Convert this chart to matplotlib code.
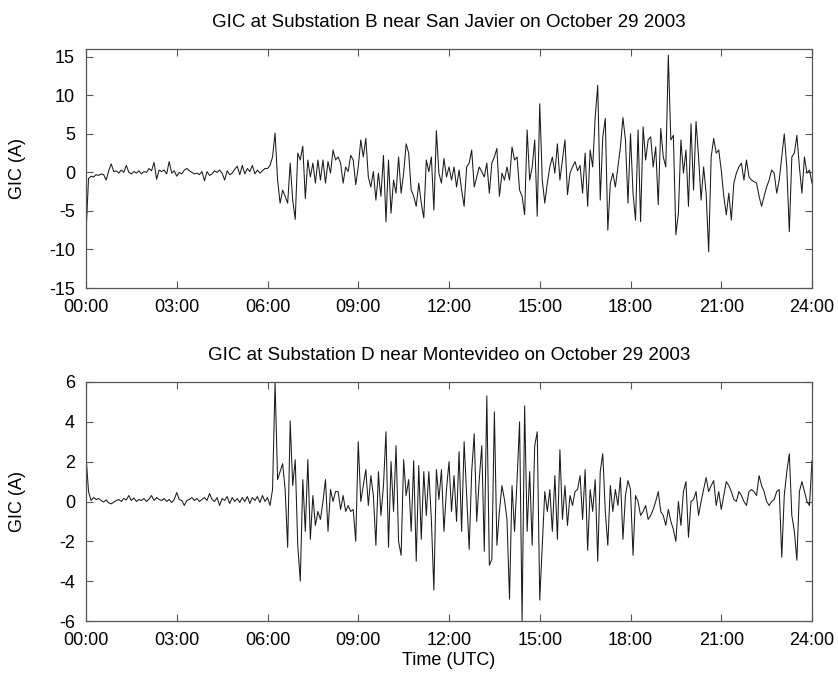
import numpy as np
import matplotlib
matplotlib.use("Agg")
import matplotlib.pyplot as plt

plt.rcParams['font.family'] = ['Liberation Sans', 'DejaVu Sans']
plt.rcParams['axes.unicode_minus'] = False

# sample times in minutes (5-minute readings)
minutes = np.arange(0, 1441, 5)

# GIC at Substation B (San Javier), A
gic_b = [
    -8, -0.8, -0.5, -0.6, -0.3, -0.4, -0.2, -0.3, -1.0, 0.2, 1.1, 0.1,
    0.2, -0.1, 0.3, 0.0, 0.9, 0.0, -0.2, 0.1, -0.1, 0.2, -0.2, 0.1,
    0.0, 0.5, 0.2, 1.3, -0.9, 0.3, 0.1, 0.3, -0.2, 1.4, -0.1, 0.2,
    -0.5, 0.0, -0.2, 0.3, 0.5, 0.2, 0.0, -0.2, -0.1, -0.3, 0.1, -1.1,
    0.1, -0.4, -0.2, 0.2, 0.0, 0.3, -0.1, -1.0, 0.2, -0.3, -0.1, 0.4,
    0.8, -0.3, 0.9, -0.2, 0.5, 0.1, 0.9, -0.2, 0.3, -0.1, 0.2, 0.5,
    0.5, 0.9, 2.0, 5.1, -1.0, -4.0, -2.3, -3.1, -4.0, 1.2, -3.6, -6.1,
    2.5, 1.6, 3.4, -3.4, 1.6, -0.6, 1.2, -1.4, 1.6, -1.0, 1.6, -1.4,
    1.4, -0.1, 2.9, 1.6, 2.0, 1.2, -1.4, 0.7, 0.1, 2.2, 1.6, -1.6,
    0.7, 4.2, 2.0, 4.4, -0.6, -1.9, 0.1, -3.6, -0.1, -3.1, 2.2, -6.4,
    1.6, -5.3, -1.0, -2.7, 2.0, -2.7, -0.1, 3.7, 2.5, -2.3, -3.1, -4.4,
    -1.4, -4.0, -5.9, 1.6, 0.1, 2.0, -4.9, 5.4, -0.1, -1.4, 1.8, -0.6,
    0.7, -1.0, 0.7, -1.9, 0.3, -2.3, -4.4, 0.7, 1.2, 2.9, -1.9, -0.6,
    0.7, 0.1, -0.6, 1.2, -2.7, 1.2, 2.0, 3.1, -3.1, -0.1, -1.0, 0.7,
    -1.0, 3.3, 1.6, 2.0, -2.3, -3.1, -5.5, 5.5, -1.0, 0.7, 4.2, -5.7,
    8.9, -1.0, -4.0, -1.4, 0.7, 2.0, -0.1, 3.7, -1.0, 1.6, 4.2, -2.9,
    -0.1, 0.7, 1.4, 0.2, 0.9, -2.7, 2.5, -4.4, 2.9, 0.7, 7.2, 11.3,
    -3.6, 4.6, 7.0, -7.5, -1.4, -0.1, -1.9, 0.7, 3.3, 7.1, 4.2, -4.0,
    5.0, -2.7, -6.2, 5.5, -6.4, 5.9, 1.6, 4.2, 4.6, 0.7, 3.3, -4.2,
    5.7, 2.0, 0.7, 15.2, 4.2, 4.8, -8.1, -5.3, 4.2, -0.1, 2.9, -4.4,
    6.3, -2.3, 6.6, 2.0, -3.6, 0.7, -2.7, -10.3, 2.0, 4.4, 2.5, 2.9,
    0.3, -3.1, -5.5, -2.7, -6.2, -1.4, -0.1, 0.7, 1.2, -1.0, 1.6, -0.6,
    -1.0, -1.2, -1.4, -3.1, -4.4, -3.1, -1.9, -1.0, 0.3, -0.1, -2.7, -1.0,
    2.0, 5.0, 0.7, -7.7, 2.0, 2.5, 4.8, 0.7, -2.7, 2.0, -0.1, 0.3,
    -1.4,
]

# GIC at Substation D (Montevideo), A
gic_d = [
    2.3, 0.5, 0.05, 0.2, 0.1, 0.15, 0.05, -0.03, 0.08, -0.07, -0.12, -0.03,
    0.05, 0.1, 0.0, 0.15, 0.08, 0.3, 0.05, 0.18, 0.0, 0.1, 0.05, 0.15,
    0.0, 0.12, 0.3, 0.05, 0.2, 0.1, 0.05, 0.15, 0.0, 0.1, -0.05, 0.1,
    0.45, 0.1, 0.05, -0.2, 0.05, 0.1, 0.2, 0.05, 0.15, 0.0, 0.1, 0.2,
    0.05, 0.4, 0.1, 0.0, 0.2, -0.2, 0.15, 0.05, 0.25, -0.1, 0.2, 0.0,
    0.15, -0.05, 0.2, 0.0, 0.25, -0.1, 0.2, 0.05, 0.25, -0.05, 0.3, 0.0,
    0.2, -0.2, 0.6, 6.0, 1.1, 1.5, 1.9, 0.6, -2.3, 4.05, 0.8, 2.1,
    -2.2, -4.0, 1.1, -1.5, 2.1, -1.9, 0.3, -1.2, -0.5, -0.9, 0.0, 1.1,
    -1.5, 0.6, 0.0, 0.5, 0.5, -0.4, 0.3, -0.5, -0.2, -0.5, -0.4, -2.0,
    3.0, 0.0, 0.8, 1.6, -0.2, 1.3, 0.3, -2.2, 1.5, -0.7, 0.8, 3.5,
    -2.3, 2.0, -0.5, 2.8, -2.0, -2.7, 2.1, 0.3, 1.1, -1.5, 2.05, -3.0,
    1.8, -1.9, 1.5, -0.7, 1.5, -0.9, -4.45, 1.6, 0.1, 1.6, -1.5, 0.6,
    2.0, -0.5, 1.3, -1.0, 2.5, -1.5, 3.0, 0.3, -2.4, 1.5, 3.4, -1.0,
    1.1, 2.8, -2.5, 5.3, -3.2, -2.9, 4.5, -2.2, -0.5, 0.8, 0.1, -0.9,
    -4.9, 0.8, -1.5, 1.1, 4.0, -6.0, 4.8, -1.5, 1.5, -2.2, 2.8, 3.5,
    -4.95, -2.2, 0.5, -0.5, 0.6, -1.5, 1.3, -1.9, 2.6, -0.9, 0.8, -1.2,
    0.3, -0.2, 0.5, 0.6, 1.3, -0.9, 1.6, -2.45, 0.6, -0.5, 1.1, -3.0,
    1.5, 2.4, -0.5, -2.2, 0.8, -0.5, 0.6, -0.2, 1.2, -1.9, 0.3, 1.05,
    0.6, -2.7, 0.3, 0.0, -0.7, -0.5, -0.2, -0.9, -0.7, -0.4, 0.0, 0.5,
    -0.5, -0.7, -1.2, -0.4, -1.0, -1.4, -2.0, 0.0, -1.2, 0.5, 1.0, -1.8,
    0.0, 0.1, 0.5, -0.7, 0.0, 0.6, 1.2, 0.5, 0.8, 1.05, -0.2, 0.5,
    -0.4, 0.3, 1.0, 0.8, 0.5, 0.1, 0.0, 0.5, 0.3, 0.0, -0.2, 0.5,
    0.6, 0.5, 0.3, 1.3, 0.8, 0.5, 0.0, -0.2, 0.0, 0.1, 0.5, 0.6,
    -2.8, 0.3, 1.5, 2.4, -0.7, -1.5, -2.95, 0.5, 1.0, 0.5, 0.0, -0.2,
    2.05,
]

xtick_hours = [0, 3, 6, 9, 12, 15, 18, 21, 24]
xtick_labels = ["00:00", "03:00", "06:00", "09:00", "12:00", "15:00", "18:00", "21:00", "24:00"]
titles = ["GIC at Substation B near San Javier on October 29 2003",
          "GIC at Substation D near Montevideo on October 29 2003"]

W, H = 838, 682
fig = plt.figure(figsize=(W / 100, H / 100), dpi=100)

left, right = 86, 812
panels = [(49, 288), (382, 621)]
hours = minutes / 60.0

series = [gic_b, gic_d]
ylims = [(-15, 16), (-6, 6)]
yticks = [[-15, -10, -5, 0, 5, 10, 15], [-6, -4, -2, 0, 2, 4, 6]]
frame_col = "#555555"

for i, (top, bot) in enumerate(panels):
    ax = fig.add_axes([left / W, 1 - bot / H, (right - left) / W, (bot - top) / H])
    ax.plot(hours, series[i], color="#1a1a1a", lw=0.75)
    ax.set_xlim(0, 24)
    ax.set_ylim(*ylims[i])
    ax.set_xticks(xtick_hours)
    ax.set_xticklabels(xtick_labels)
    ax.set_yticks(yticks[i])
    ax.tick_params(direction="in", top=True, right=True, length=5, width=0.8,
                   color=frame_col, labelsize=13, pad=8)
    for s in ax.spines.values():
        s.set_color(frame_col)
        s.set_linewidth(0.9)
    ax.set_title(titles[i], fontsize=13.5, pad=16)
    ax.set_ylabel("GIC (A)", fontsize=13)
    ax.yaxis.set_label_coords(-0.082, 0.5)
    if i == 1:
        ax.set_xlabel("Time (UTC)", fontsize=13, labelpad=2)

fig.savefig("out.png", dpi=100, facecolor="white")
